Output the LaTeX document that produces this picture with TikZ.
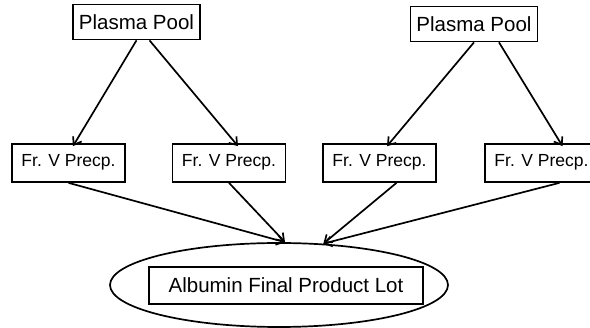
\documentclass[tikz,border=0pt]{standalone}
\usepackage{fontspec}
\setmainfont{Liberation Sans}
\usetikzlibrary{shapes.geometric,arrows.meta}
\begin{document}
\begin{tikzpicture}[x=1pt, y=-1pt, line width=1.7pt,
  pool/.style = {draw, minimum width=127pt, minimum height=35pt, inner sep=0pt, font=\fontsize{20.5}{24}\selectfont},
  frac/.style = {draw, minimum width=113pt, minimum height=38pt, inner sep=0pt, text depth=6pt, font=\fontsize{17.5}{21}\selectfont},
  arr/.style = {-{Straight Barb[length=7pt,width=10pt]}}]
  \useasboundingbox (0,0) rectangle (590,328);

  \node[pool] (pp1) at (136.5,22) {Plasma Pool};
  \node[pool] (pp2) at (474,24)   {Plasma Pool};

  \node[frac] (fr1) at (68.5,163)  {Fr. V Precp.};
  \node[frac] (fr2) at (229,163)   {Fr. V Precp.};
  \node[frac] (fr3) at (379.5,163) {Fr. V Precp.};
  \node[frac] (fr4) at (541.5,163) {Fr. V Precp.};

  \node[draw, ellipse, minimum width=338pt, minimum height=84pt, inner sep=0pt] (lot) at (279,285) {};
  \node[draw, minimum width=274pt, minimum height=37pt, inner sep=0pt,
        font=\fontsize{20.5}{24}\selectfont] (lotbox) at (286,285.5) {Albumin Final Product Lot};

  \draw[arr] (pp1.south) -- ([xshift=4.5pt, yshift=-3pt]fr1.north);
  \draw[arr] ([xshift=13pt]pp1.south) -- ([xshift=9pt, yshift=-3pt]fr2.north);
  \draw[arr] (pp2.south) -- ([xshift=7.5pt, yshift=-3pt]fr3.north);
  \draw[arr] ([xshift=25pt]pp2.south) -- ([xshift=21pt, yshift=-3pt]fr4.north);

  \draw[arr] (fr1.south) -- (lot.82);
  \draw[arr] (fr2.south) -- (lot.82);
  \draw[arr] ([xshift=17pt]fr3.south) -- (lot.43);
  \draw[arr] ([xshift=18pt]fr4.south) -- (lot.43);
\end{tikzpicture}
\end{document}
